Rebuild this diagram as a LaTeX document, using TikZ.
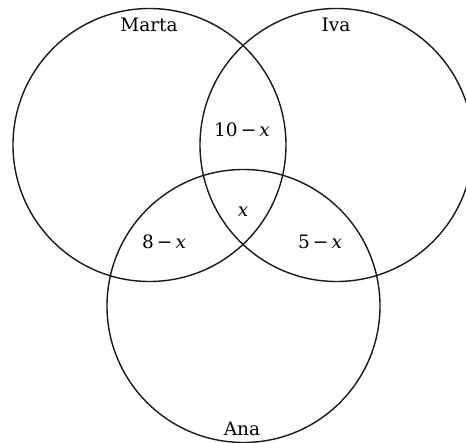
\documentclass[tikz,border=0pt]{standalone}
\usepackage{fontspec}
\setmainfont{DejaVu Serif}
\begin{document}
\begin{tikzpicture}[x=1pt,y=-1pt,
  setcircle/.style={draw=black!90, line width=1.4pt},
  lbl/.style={font=\fontsize{18.5}{22}\selectfont, inner sep=0pt}]
\useasboundingbox (0,0) rectangle (466,443);
\begin{scope}
\clip (0,0) rectangle (466,443);
\node[setcircle, circle, minimum size=273pt, inner sep=0pt] (marta) at (149.5,145) {};
\node[setcircle, circle, minimum size=273pt, inner sep=0pt] (iva) at (336.5,145) {};
\node[setcircle, circle, minimum size=273pt, inner sep=0pt] (ana) at (243.5,306) {};
\end{scope}
\node[lbl] (lm) at (149,25) {Marta};
\node[lbl] (li) at (336,25) {Iva};
\node[lbl] (la) at (242,429) {Ana};
\node[lbl] (mi) at (242,130) {10\,−\,\textit{x}};
\node[lbl] (all) at (243,212) {\textit{x}};
\node[lbl] (ma) at (164,242) {8\,−\,\textit{x}};
\node[lbl] (ia) at (320,242) {5\,−\,\textit{x}};
\end{tikzpicture}
\end{document}
